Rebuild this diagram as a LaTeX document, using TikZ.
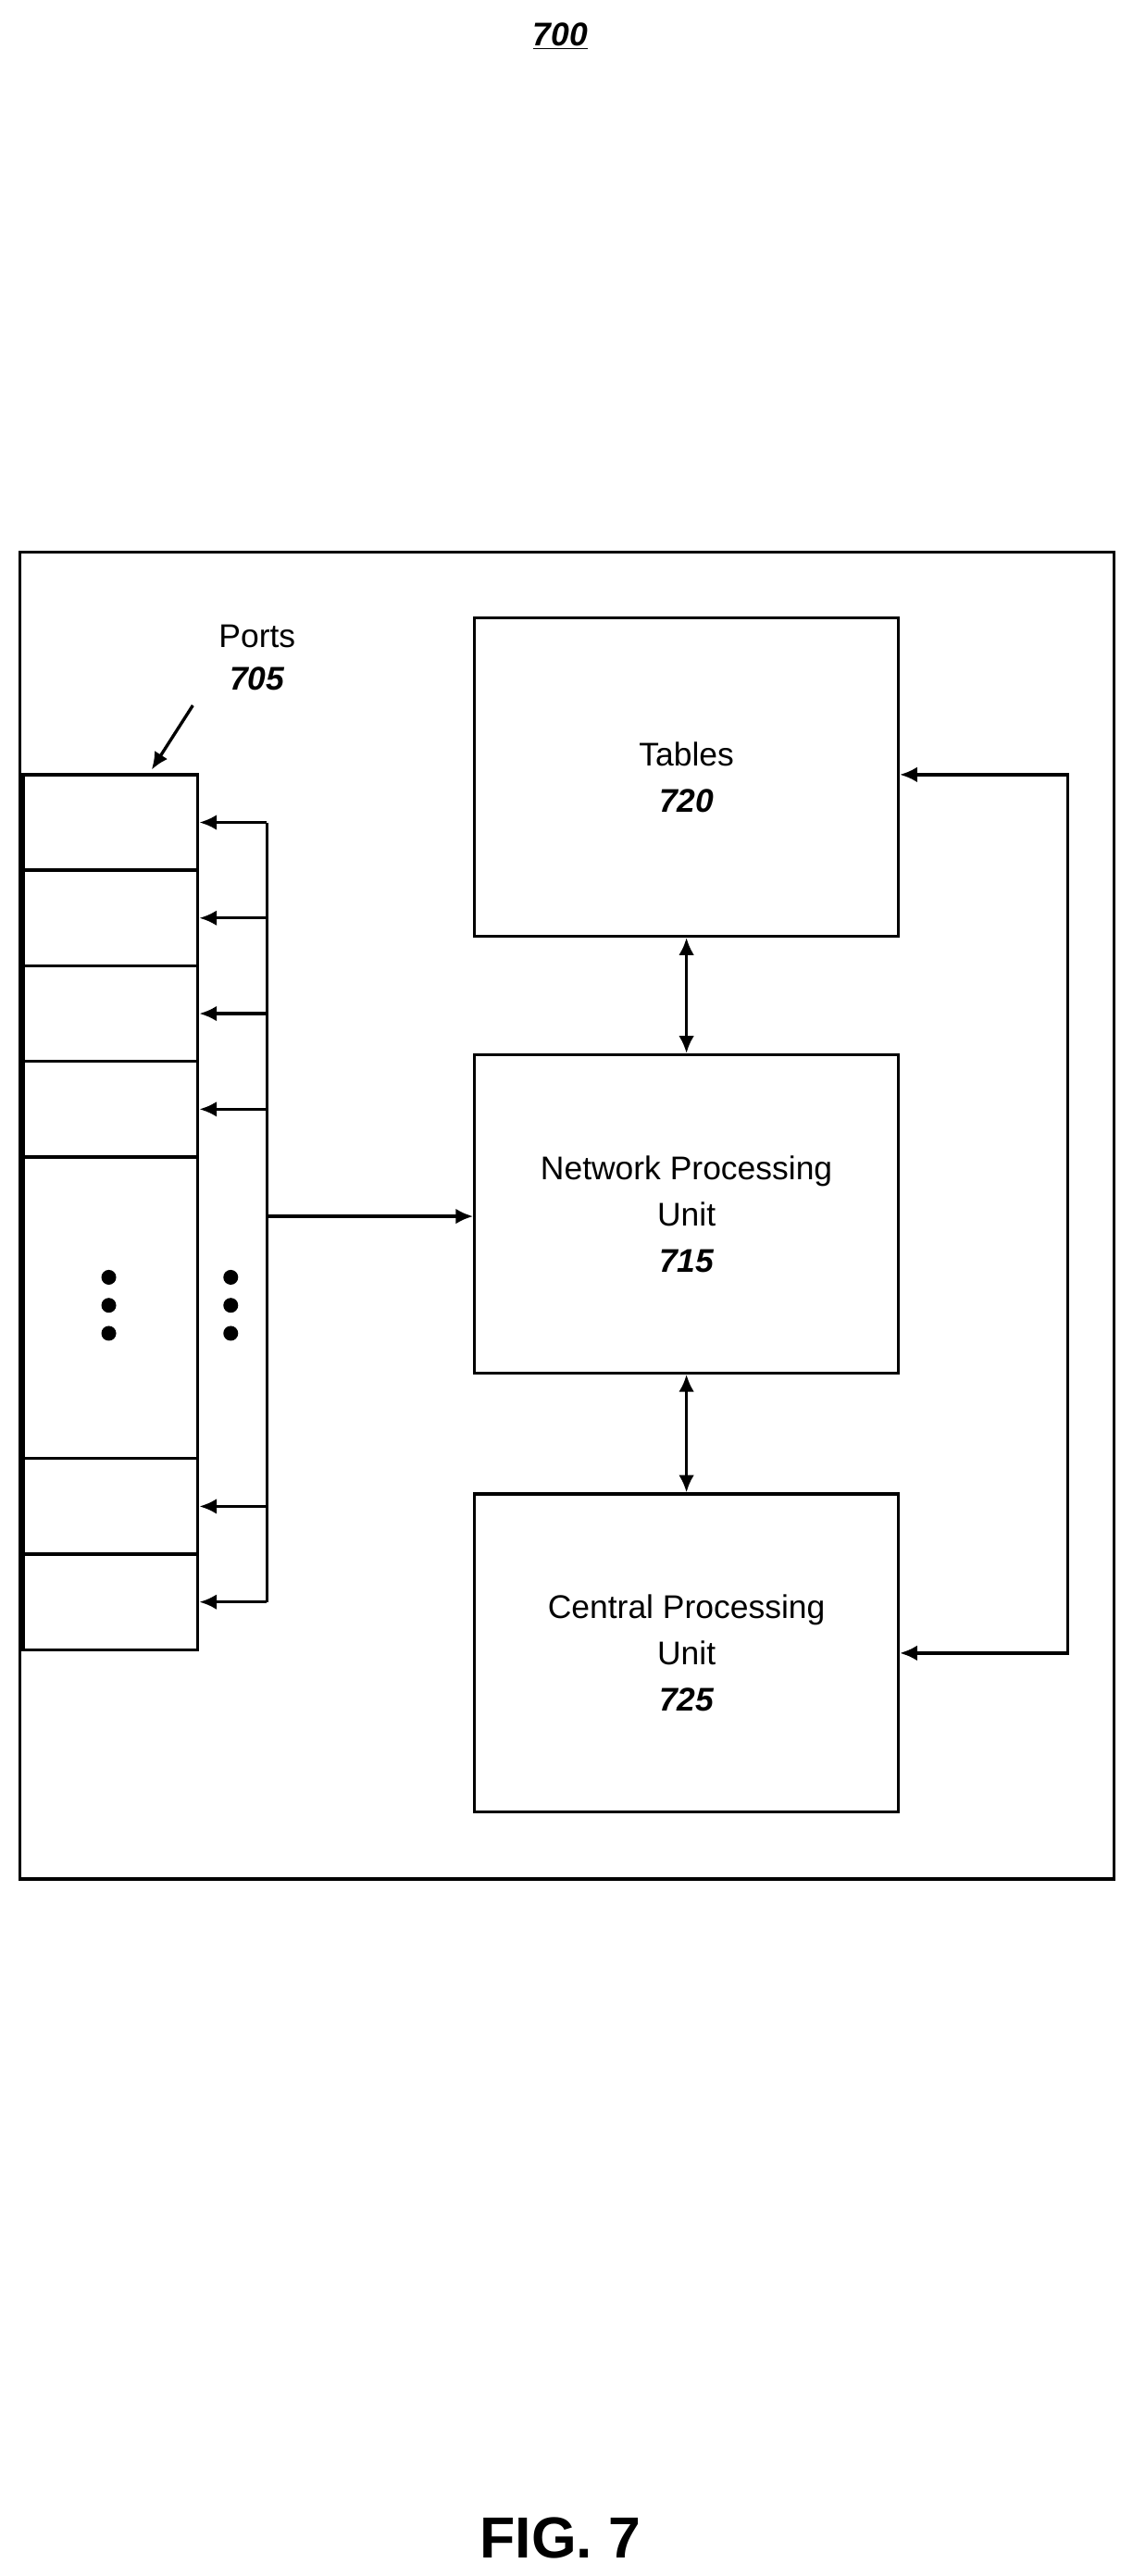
\documentclass[tikz,border=0pt]{standalone}
\usepackage{fontspec}
\setmainfont{Liberation Sans}
\usetikzlibrary{arrows.meta,calc}
\tikzset{
  box/.style={draw, line width=1.6pt, minimum width=7.71cm, minimum height=5.79cm, align=center, font=\fontsize{17}{24}\selectfont},
  port/.style={draw, line width=1.6pt, minimum width=3.18cm, minimum height=1.74cm, inner sep=0pt},
  conn/.style={line width=1.6pt, -{Latex[length=9pt,width=8pt]}},
  biconn/.style={line width=1.6pt, {Latex[length=9pt,width=8pt]}-{Latex[length=9pt,width=8pt]}},
  num/.style={font=\bfseries\itshape}
}
\begin{document}
\begin{tikzpicture}[x=0.03cm,y=-0.03cm]
\useasboundingbox (0,0) rectangle (687,1563);
\node (title) at (340,22) {\fontsize{17}{20}\selectfont\bfseries\itshape\underline{700}};
\node (fig) at (340,1540) {\fontsize{30}{36}\selectfont\bfseries FIG. 7};
% outer frame
\draw[line width=1.6pt] (12,335) rectangle (676,1140);
% ports
\foreach \n/\y in {1/499,2/557,3/615,4/673,6/914,7/972}
  \node[port] (p\n) at (67,\y) {};
\node[port, minimum height=5.49cm] (p5) at (67,793.5) {};
\foreach \x in {66,140}
  \foreach \y in {775,792,809}
    \fill (\x,\y) circle (4.5);
\node[font=\fontsize{17}{24}\selectfont, align=center] (portslbl) at (156,399) {Ports\\[-2pt]{\bfseries\itshape 705}};
\coordinate (ptip) at (92,467);
\draw[conn] (117,428) -- (ptip);
% boxes
\node[box] (tables) at (416.5,471.5) {Tables\\{\bfseries\itshape 720}};
\node[box] (npu) at (416.5,736.5) {Network Processing\\Unit\\{\bfseries\itshape 715}};
\node[box] (cpu) at (416.5,1003) {Central Processing\\Unit\\{\bfseries\itshape 725}};
% bus
\coordinate (bt) at (162,499);
\coordinate (bb) at (162,972);
\draw[line width=1.6pt] (bt) -- (bb);
\foreach \n in {1,2,3,4,6,7}
  \draw[conn] (bt |- p\n) -- (p\n.east);
\draw[conn] (162,738) -- (npu.west |- 0,738);
\draw[biconn] (tables) -- (npu);
\draw[biconn] (npu) -- (cpu);
\coordinate (rt) at (648,470);
\coordinate (rb) at (648,1003);
\draw[biconn] (tables.east |- rt) -- (rt) -- (rb) -- (cpu.east |- rb);
\end{tikzpicture}
\end{document}
